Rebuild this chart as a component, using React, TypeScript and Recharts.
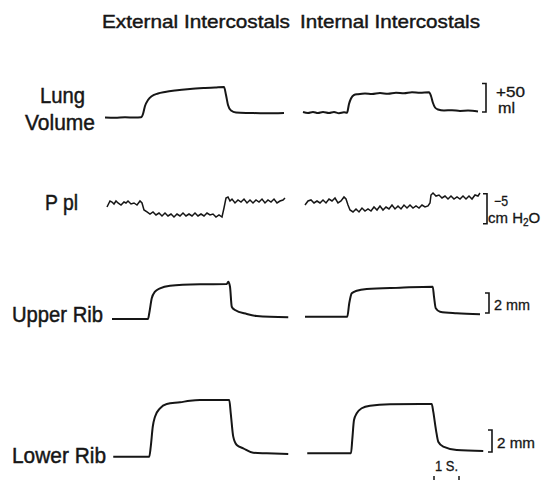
import { Line, LineChart, XAxis, YAxis } from 'recharts'

const W = 548
const H = 480
const PX_PER_S = 25
const T_MAX = W / PX_PER_S
const INK = '#161616'
const FONT = '"Liberation Sans", Arial, Helvetica, sans-serif'

// lung volume (ml), external / internal intercostals
const lungExtT = [4.2, 4.6, 5.0, 5.4, 5.64, 5.72, 5.8, 5.92, 6.08, 6.32, 6.6, 7.0, 7.6, 8.2, 8.6, 8.96, 9.04, 9.12, 9.24, 9.44, 10.0, 10.6, 11.36]
const lungExtMl = [-0.6, -1.2, -0.1, -0.8, -0.3, 5.5, 19.5, 30, 37, 41.4, 44, 46.6, 49.3, 51, 51.9, 52.8, 38.8, 21.3, 11.6, 8.1, 7.3, 6.7, 7.3]
const lungIntT = [12.12, 12.32, 12.52, 12.72, 12.92, 13.16, 13.36, 13.56, 13.76, 13.88, 13.96, 14.04, 14.16, 14.32, 14.6, 14.88, 15.2, 15.52, 15.84, 16.16, 16.48, 16.8, 17.16, 17.24, 17.32, 17.4, 17.52, 17.76, 18.08, 18.4, 18.72, 19.12]
const lungIntMl = [9, 7.3, 9.1, 7.1, 9, 7.2, 8.9, 6.9, 8.4, 7.6, 23, 32.6, 38.75, 40.15, 41.5, 40.4, 42.1, 41, 42.8, 41.7, 43.4, 42.6, 43.4, 37, 24.75, 16.9, 13.4, 11.6, 12.15, 10.9, 11.45, 9.9]

// pleural pressure (cm H2O)
const pplExtT = [4.28, 4.4, 4.48, 4.56, 4.64, 4.72, 4.84, 4.96, 5.04, 5.12, 5.24, 5.36, 5.48, 5.6, 5.68, 5.76, 5.88, 6.0, 6.12, 6.24, 6.36, 6.48, 6.6, 6.72, 6.84, 6.96, 7.08, 7.2, 7.32, 7.44, 7.56, 7.68, 7.8, 7.92, 8.04, 8.16, 8.28, 8.4, 8.52, 8.64, 8.76, 8.88, 8.96, 9.04, 9.12, 9.2, 9.28, 9.4, 9.52, 9.64, 9.76, 9.88, 10.0, 10.12, 10.24, 10.36, 10.48, 10.6, 10.72, 10.84, 10.96, 11.08, 11.2, 11.32, 11.4]
const pplExtCm = [-0.5, 0.5, 0.33, 0, 0.5, 0.17, -0.17, 0.33, 0.17, 0.5, 0, 0.17, -0.17, 0.5, 0.17, -1, -1.33, -1.67, -1.33, -1.83, -1.5, -2, -1.5, -2, -1.67, -2.17, -1.67, -2, -1.5, -2, -1.67, -2, -1.5, -2, -1.67, -2, -1.5, -1.83, -1.67, -2.17, -1.83, -2.17, -0.67, 1, 1.17, 0.5, 0.83, 0.17, 0.67, 0.33, 0.83, 0.17, 0.67, 0.17, 0.67, 0.33, 0.83, 0.17, 0.67, 0.33, 0.83, 0.17, 0.5, 0.67, 1]
const pplIntT = [12.2, 12.32, 12.44, 12.56, 12.68, 12.8, 12.92, 13.04, 13.16, 13.28, 13.4, 13.52, 13.64, 13.76, 13.84, 13.92, 14.0, 14.12, 14.24, 14.36, 14.48, 14.6, 14.72, 14.84, 14.96, 15.08, 15.2, 15.32, 15.44, 15.56, 15.68, 15.8, 15.92, 16.04, 16.16, 16.28, 16.4, 16.52, 16.64, 16.76, 16.88, 17.0, 17.12, 17.2, 17.24, 17.32, 17.44, 17.56, 17.68, 17.8, 17.92, 18.04, 18.16, 18.28, 18.4, 18.52, 18.64, 18.76, 18.88, 19.0, 19.12, 19.2]
const pplIntCm = [-0.17, 0.5, 0.67, 0.17, 0.5, 0.17, 0.67, 0.17, 0.83, 0.5, 1, 0.17, 0.5, 1.17, 0.83, -0.17, -1, -1.33, -0.83, -1.33, -0.67, -1.17, -0.83, -1.17, -0.5, -1, -0.33, -1, -0.5, -0.83, -0.17, -0.83, -0.33, -0.83, -0.17, -0.67, -0.17, -0.67, -0.33, -0.67, -0.17, -0.5, -0.33, 0.17, 1.5, 1.83, 1.33, 1.5, 1, 1.33, 0.83, 1.33, 0.83, 1.17, 0.83, 1.33, 0.83, 1.33, 0.83, 1.5, 1.33, 1.83]

// upper rib displacement (mm)
const upperExtT = [4.48, 5.92, 5.97, 6.07, 6.2, 6.4, 6.8, 8.0, 9.07, 9.13, 9.2, 9.27, 9.4, 9.87, 10.27, 11.53]
const upperExtMm = [-0.1, -0.1, 0.47, 1.97, 2.63, 2.97, 3.23, 3.37, 3.4, 3.63, 3.13, 1.13, 0.8, 0.4, 0.2, 0.07]
const upperIntT = [12.2, 13.89, 13.97, 14.07, 14.27, 14.67, 16.0, 17.31, 17.36, 17.43, 17.6, 18.27, 19.2]
const upperIntMm = [0.13, 0.13, 1.47, 2.47, 2.73, 2.9, 3.03, 3.13, 2.13, 0.97, 0.63, 0.47, 0.37]

// lower rib displacement (mm)
const lowerExtT = [4.53, 5.97, 6.03, 6.11, 6.2, 6.4, 6.67, 7.2, 7.6, 8.0, 9.17, 9.23, 9.33, 9.47, 9.73, 10.13, 10.67, 11.53]
const lowerExtMm = [0.03, 0.03, 0.94, 2.75, 3.66, 4.43, 4.82, 4.97, 5.12, 5.18, 5.18, 3.97, 1.85, 1.09, 0.79, 0.39, 0.34, 0.27]
const lowerIntT = [12.29, 14.04, 14.09, 14.16, 14.27, 14.47, 14.8, 15.6, 17.27, 17.33, 17.44, 17.53, 17.73, 18.27, 19.33]
const lowerIntMm = [0.34, 0.34, 1.55, 3.36, 3.97, 4.43, 4.66, 4.79, 4.82, 4.12, 2.45, 1.39, 0.94, 0.64, 0.55]

// calibration bars: [start value, size]
const lungBar = [9, 50]
const pplBar = [-3.3, 5]
const upperBar = [0.5, 2]
const lowerBar = [0.45, 2]
const timeBar = [17.36, 1]

const zip = (t: number[], v: number[]) => t.map((x, i) => ({ t: x, v: v[i] }))

type Row = {
  top: number
  height: number
  domain: [number, number]
  curve: 'monotone' | 'linear'
  width: number
  ext: { t: number; v: number }[]
  int: { t: number; v: number }[]
}

const rows: Row[] = [
  { top: 60, height: 80, domain: [-40, 100], curve: 'monotone', width: 2, ext: zip(lungExtT, lungExtMl), int: zip(lungIntT, lungIntMl) },
  { top: 186, height: 48, domain: [-5, 3], curve: 'linear', width: 1.5, ext: zip(pplExtT, pplExtCm), int: zip(pplIntT, pplIntCm) },
  { top: 270, height: 60, domain: [-1.2, 4.8], curve: 'monotone', width: 2, ext: zip(upperExtT, upperExtMm), int: zip(upperIntT, upperIntMm) },
  { top: 391, height: 77, domain: [-1, 6], curve: 'monotone', width: 2, ext: zip(lowerExtT, lowerExtMm), int: zip(lowerIntT, lowerIntMm) },
]

// value -> page y, same mapping the chart uses
function yOf(row: Row, v: number) {
  const [lo, hi] = row.domain
  return row.top + ((hi - v) / (hi - lo)) * row.height
}

function Bracket({ row, bar, x }: { row: Row; bar: number[]; x: number }) {
  const y1 = yOf(row, bar[0] + bar[1])
  const y2 = yOf(row, bar[0])
  return <path d={`M${x - 4},${y1} H${x} V${y2} H${x - 4}`} fill="none" stroke={INK} strokeWidth={1.6} />
}

function TraceRow({ row }: { row: Row }) {
  return (
    <div style={{ position: 'absolute', left: 0, top: row.top }}>
      <LineChart width={W} height={row.height} margin={{ top: 0, right: 0, bottom: 0, left: 0 }}>
        <XAxis type="number" dataKey="t" domain={[0, T_MAX]} allowDataOverflow hide />
        <YAxis type="number" domain={row.domain} allowDataOverflow hide />
        <Line data={row.ext} dataKey="v" type={row.curve} stroke={INK} strokeWidth={row.width} dot={false} isAnimationActive={false} />
        <Line data={row.int} dataKey="v" type={row.curve} stroke={INK} strokeWidth={row.width} dot={false} isAnimationActive={false} />
      </LineChart>
    </div>
  )
}

export default function App() {
  const [lung, ppl, upper, lower] = rows
  const tx = (t: number) => t * PX_PER_S
  return (
    <div style={{ position: 'absolute', left: 0, top: 0, width: W, height: H, background: '#fff', overflow: 'hidden' }}>
      {rows.map((row, i) => (
        <TraceRow key={i} row={row} />
      ))}
      <svg width={W} height={H} style={{ position: 'absolute', left: 0, top: 0 }} fontFamily={FONT} fill={INK}>
        <g stroke={INK} strokeWidth={0.45}>
          <text x={102} y={28} fontSize={19} textLength={188} lengthAdjust="spacingAndGlyphs">External Intercostals</text>
          <text x={300} y={28} fontSize={19} textLength={180} lengthAdjust="spacingAndGlyphs">Internal Intercostals</text>

          <text x={40} y={103} fontSize={21.5} textLength={45} lengthAdjust="spacingAndGlyphs">Lung</text>
          <text x={25} y={129.5} fontSize={21.5} textLength={70} lengthAdjust="spacingAndGlyphs">Volume</text>
          <text x={45} y={210} fontSize={21.5} textLength={33} lengthAdjust="spacingAndGlyphs">P pl</text>
          <text x={12} y={321.5} fontSize={21.5} textLength={91} lengthAdjust="spacingAndGlyphs">Upper Rib</text>
          <text x={12} y={462.5} fontSize={21.5} textLength={94} lengthAdjust="spacingAndGlyphs">Lower Rib</text>
        </g>

        <g stroke={INK} strokeWidth={0.3}>
          <text x={496} y={96.5} fontSize={14.5} textLength={29} lengthAdjust="spacingAndGlyphs">+50</text>
          <text x={498} y={113} fontSize={14.5} textLength={17} lengthAdjust="spacingAndGlyphs">ml</text>

          <text x={494} y={205.5} fontSize={14} textLength={14} lengthAdjust="spacingAndGlyphs">−5</text>
          <text x={488} y={223} fontSize={15}>
            cm H<tspan fontSize={10} dy={3}>2</tspan><tspan dy={-3}>O</tspan>
          </text>

          <text x={494} y={310} fontSize={15} textLength={36} lengthAdjust="spacingAndGlyphs">2 mm</text>
          <text x={497} y={448} fontSize={15} textLength={38} lengthAdjust="spacingAndGlyphs">2 mm</text>
          <text x={435} y={471} fontSize={14} textLength={23} lengthAdjust="spacingAndGlyphs">1 S.</text>
        </g>

        <Bracket row={lung} bar={lungBar} x={486} />
        <Bracket row={ppl} bar={pplBar} x={487} />
        <Bracket row={upper} bar={upperBar} x={489} />
        <Bracket row={lower} bar={lowerBar} x={492} />

        <path
          d={`M${tx(timeBar[0])},476 V481 M${tx(timeBar[0] + timeBar[1])},476 V481`}
          stroke={INK}
          strokeWidth={1.5}
          fill="none"
        />
      </svg>
    </div>
  )
}
